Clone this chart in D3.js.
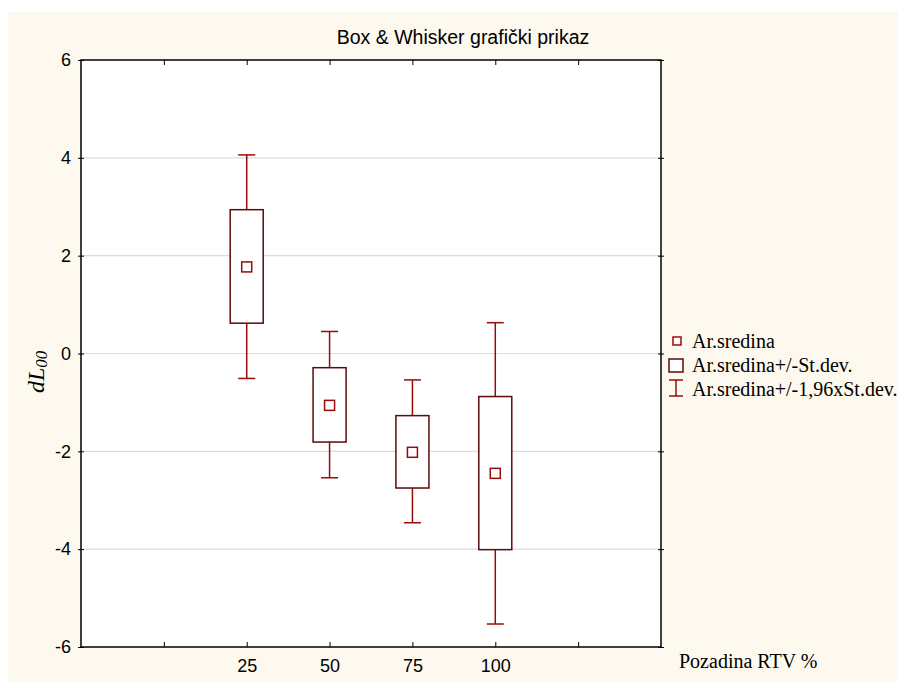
<!DOCTYPE html>
<html><head><meta charset="utf-8">
<script src="https://cdn.jsdelivr.net/npm/d3@7"></script>
<style>body{margin:0;background:#fff;}svg{display:block;}</style>
</head><body>
<script>
const categories = ["25", "50", "75", "100"];
const categoryPos = [2, 3, 4, 5];
const means = [1.77, -1.06, -2.02, -2.45];
const sdLow = [0.62, -1.81, -2.75, -4.01];
const sdHigh = [2.94, -0.29, -1.27, -0.88];
const ciLow = [-0.51, -2.54, -3.46, -5.53];
const ciHigh = [4.06, 0.45, -0.54, 0.63];
const yTicks = [-6, -4, -2, 0, 2, 4, 6];
const xTickPos = [1, 2, 3, 4, 5, 6];
const legendLabels = ["Ar.sredina", "Ar.sredina+/-St.dev.", "Ar.sredina+/-1,96xSt.dev."];

const W = 898, H = 682;
const L = 81, R = 661, T = 60, B = 647;
const boxColor = "#5c0a0a", whiskColor = "#9a0a0a";
const sans = "Liberation Sans, Arial, sans-serif";
const serif = "Liberation Serif, Times New Roman, serif";

const svg = d3.select("body").append("svg").attr("width", W).attr("height", H);
svg.append("rect").attr("x", 8).attr("y", 12).attr("width", W - 8).attr("height", H - 12).attr("fill", "#fdf9ee");
svg.append("rect").attr("x", L).attr("y", T).attr("width", R - L).attr("height", B - T).attr("fill", "#fff");

const x = d3.scaleLinear().domain([0, 7]).range([L, R]);
const y = d3.scaleLinear().domain([-6, 6]).range([B, T]);

// gridlines
svg.append("g").selectAll("line").data(yTicks.filter(v => v > -6 && v < 6)).join("line")
  .attr("x1", L).attr("x2", R).attr("y1", d => y(d)).attr("y2", d => y(d))
  .attr("stroke", "#dcdcdc").attr("stroke-width", 1.2);

// left axis
const ly = svg.append("g").attr("transform", `translate(${L},0)`)
  .call(d3.axisLeft(y).tickValues(yTicks).tickFormat(d => String(d)).tickSize(4).tickPadding(6));
ly.select(".domain").remove();
ly.selectAll("line").attr("stroke", "#000").attr("x2", -3).attr("x1", 3);
ly.selectAll("text").attr("font-family", sans).attr("font-size", 18).attr("fill", "#000");

// right ticks
const ry = svg.append("g").attr("transform", `translate(${R},0)`)
  .call(d3.axisRight(y).tickValues(yTicks).tickFormat("").tickSize(3));
ry.select(".domain").remove();
ry.selectAll("line").attr("stroke", "#000").attr("x1", -3);

// bottom axis
const bx = svg.append("g").attr("transform", `translate(0,${B})`)
  .call(d3.axisBottom(x).tickValues(xTickPos).tickSize(-5).tickPadding(12)
    .tickFormat(d => { const i = categoryPos.indexOf(d); return i >= 0 ? categories[i] : ""; }));
bx.select(".domain").remove();
bx.selectAll("line").attr("stroke", "#000");
bx.selectAll("text").attr("font-family", sans).attr("font-size", 18).attr("fill", "#000");

// top ticks
const tx = svg.append("g").attr("transform", `translate(0,${T})`)
  .call(d3.axisTop(x).tickValues(xTickPos).tickSize(-5).tickFormat(""));
tx.select(".domain").remove();
tx.selectAll("line").attr("stroke", "#000");

// frame
svg.append("rect").attr("x", L).attr("y", T).attr("width", R - L).attr("height", B - T)
  .attr("fill", "none").attr("stroke", "#000").attr("stroke-width", 1.5);

// boxes
const bw = 33, cap = 17, ms = 10;
const g = svg.append("g");
categories.forEach((c, i) => {
  const cx = x(categoryPos[i]);
  g.append("line").attr("x1", cx).attr("x2", cx).attr("y1", y(ciHigh[i])).attr("y2", y(sdHigh[i])).attr("stroke", whiskColor).attr("stroke-width", 1.5);
  g.append("line").attr("x1", cx).attr("x2", cx).attr("y1", y(sdLow[i])).attr("y2", y(ciLow[i])).attr("stroke", whiskColor).attr("stroke-width", 1.5);
  g.append("line").attr("x1", cx - cap / 2).attr("x2", cx + cap / 2).attr("y1", y(ciHigh[i])).attr("y2", y(ciHigh[i])).attr("stroke", whiskColor).attr("stroke-width", 1.5);
  g.append("line").attr("x1", cx - cap / 2).attr("x2", cx + cap / 2).attr("y1", y(ciLow[i])).attr("y2", y(ciLow[i])).attr("stroke", whiskColor).attr("stroke-width", 1.5);
  g.append("rect").attr("x", cx - bw / 2).attr("y", y(sdHigh[i])).attr("width", bw).attr("height", y(sdLow[i]) - y(sdHigh[i]))
    .attr("fill", "#fff").attr("stroke", boxColor).attr("stroke-width", 1.5);
  g.append("rect").attr("x", cx - ms / 2).attr("y", y(means[i]) - ms / 2).attr("width", ms).attr("height", ms)
    .attr("fill", "#fff").attr("stroke", whiskColor).attr("stroke-width", 1.5);
});

// title
svg.append("text").attr("x", 463).attr("y", 44).attr("text-anchor", "middle")
  .attr("font-family", sans).attr("font-size", 19.5).attr("fill", "#000")
  .text("Box & Whisker grafički prikaz");

// y label
const yl = svg.append("text").attr("transform", "translate(44,393) rotate(-90)").attr("text-anchor", "start")
  .attr("font-family", serif).attr("font-style", "italic").attr("font-size", 24).attr("fill", "#000");
yl.append("tspan").text("dL");
yl.append("tspan").attr("font-size", 17).attr("dy", 3).text("00");

// x label
svg.append("text").attr("x", 679).attr("y", 668)
  .attr("font-family", serif).attr("font-size", 20).attr("fill", "#000")
  .text("Pozadina RTV %");

// legend
const lg = svg.append("g").attr("font-family", serif).attr("font-size", 20).attr("fill", "#000");
const rowsY = [341, 365, 389];
legendLabels.forEach((t, i) => {
  lg.append("text").attr("x", 692).attr("y", rowsY[i] + 7).text(t);
});
lg.append("rect").attr("x", 673).attr("y", rowsY[0] - 4).attr("width", 8).attr("height", 8).attr("fill", "#fff").attr("stroke", whiskColor).attr("stroke-width", 1.5);
lg.append("rect").attr("x", 669).attr("y", rowsY[1] - 6).attr("width", 14).attr("height", 13).attr("fill", "#fff").attr("stroke", boxColor).attr("stroke-width", 1.5);
lg.append("line").attr("x1", 676).attr("x2", 676).attr("y1", rowsY[2] - 9).attr("y2", rowsY[2] + 7).attr("stroke", whiskColor).attr("stroke-width", 1.5);
lg.append("line").attr("x1", 669).attr("x2", 683).attr("y1", rowsY[2] - 9).attr("y2", rowsY[2] - 9).attr("stroke", whiskColor).attr("stroke-width", 1.5);
lg.append("line").attr("x1", 669).attr("x2", 683).attr("y1", rowsY[2] + 7).attr("y2", rowsY[2] + 7).attr("stroke", whiskColor).attr("stroke-width", 1.5);
</script>
</body></html>
